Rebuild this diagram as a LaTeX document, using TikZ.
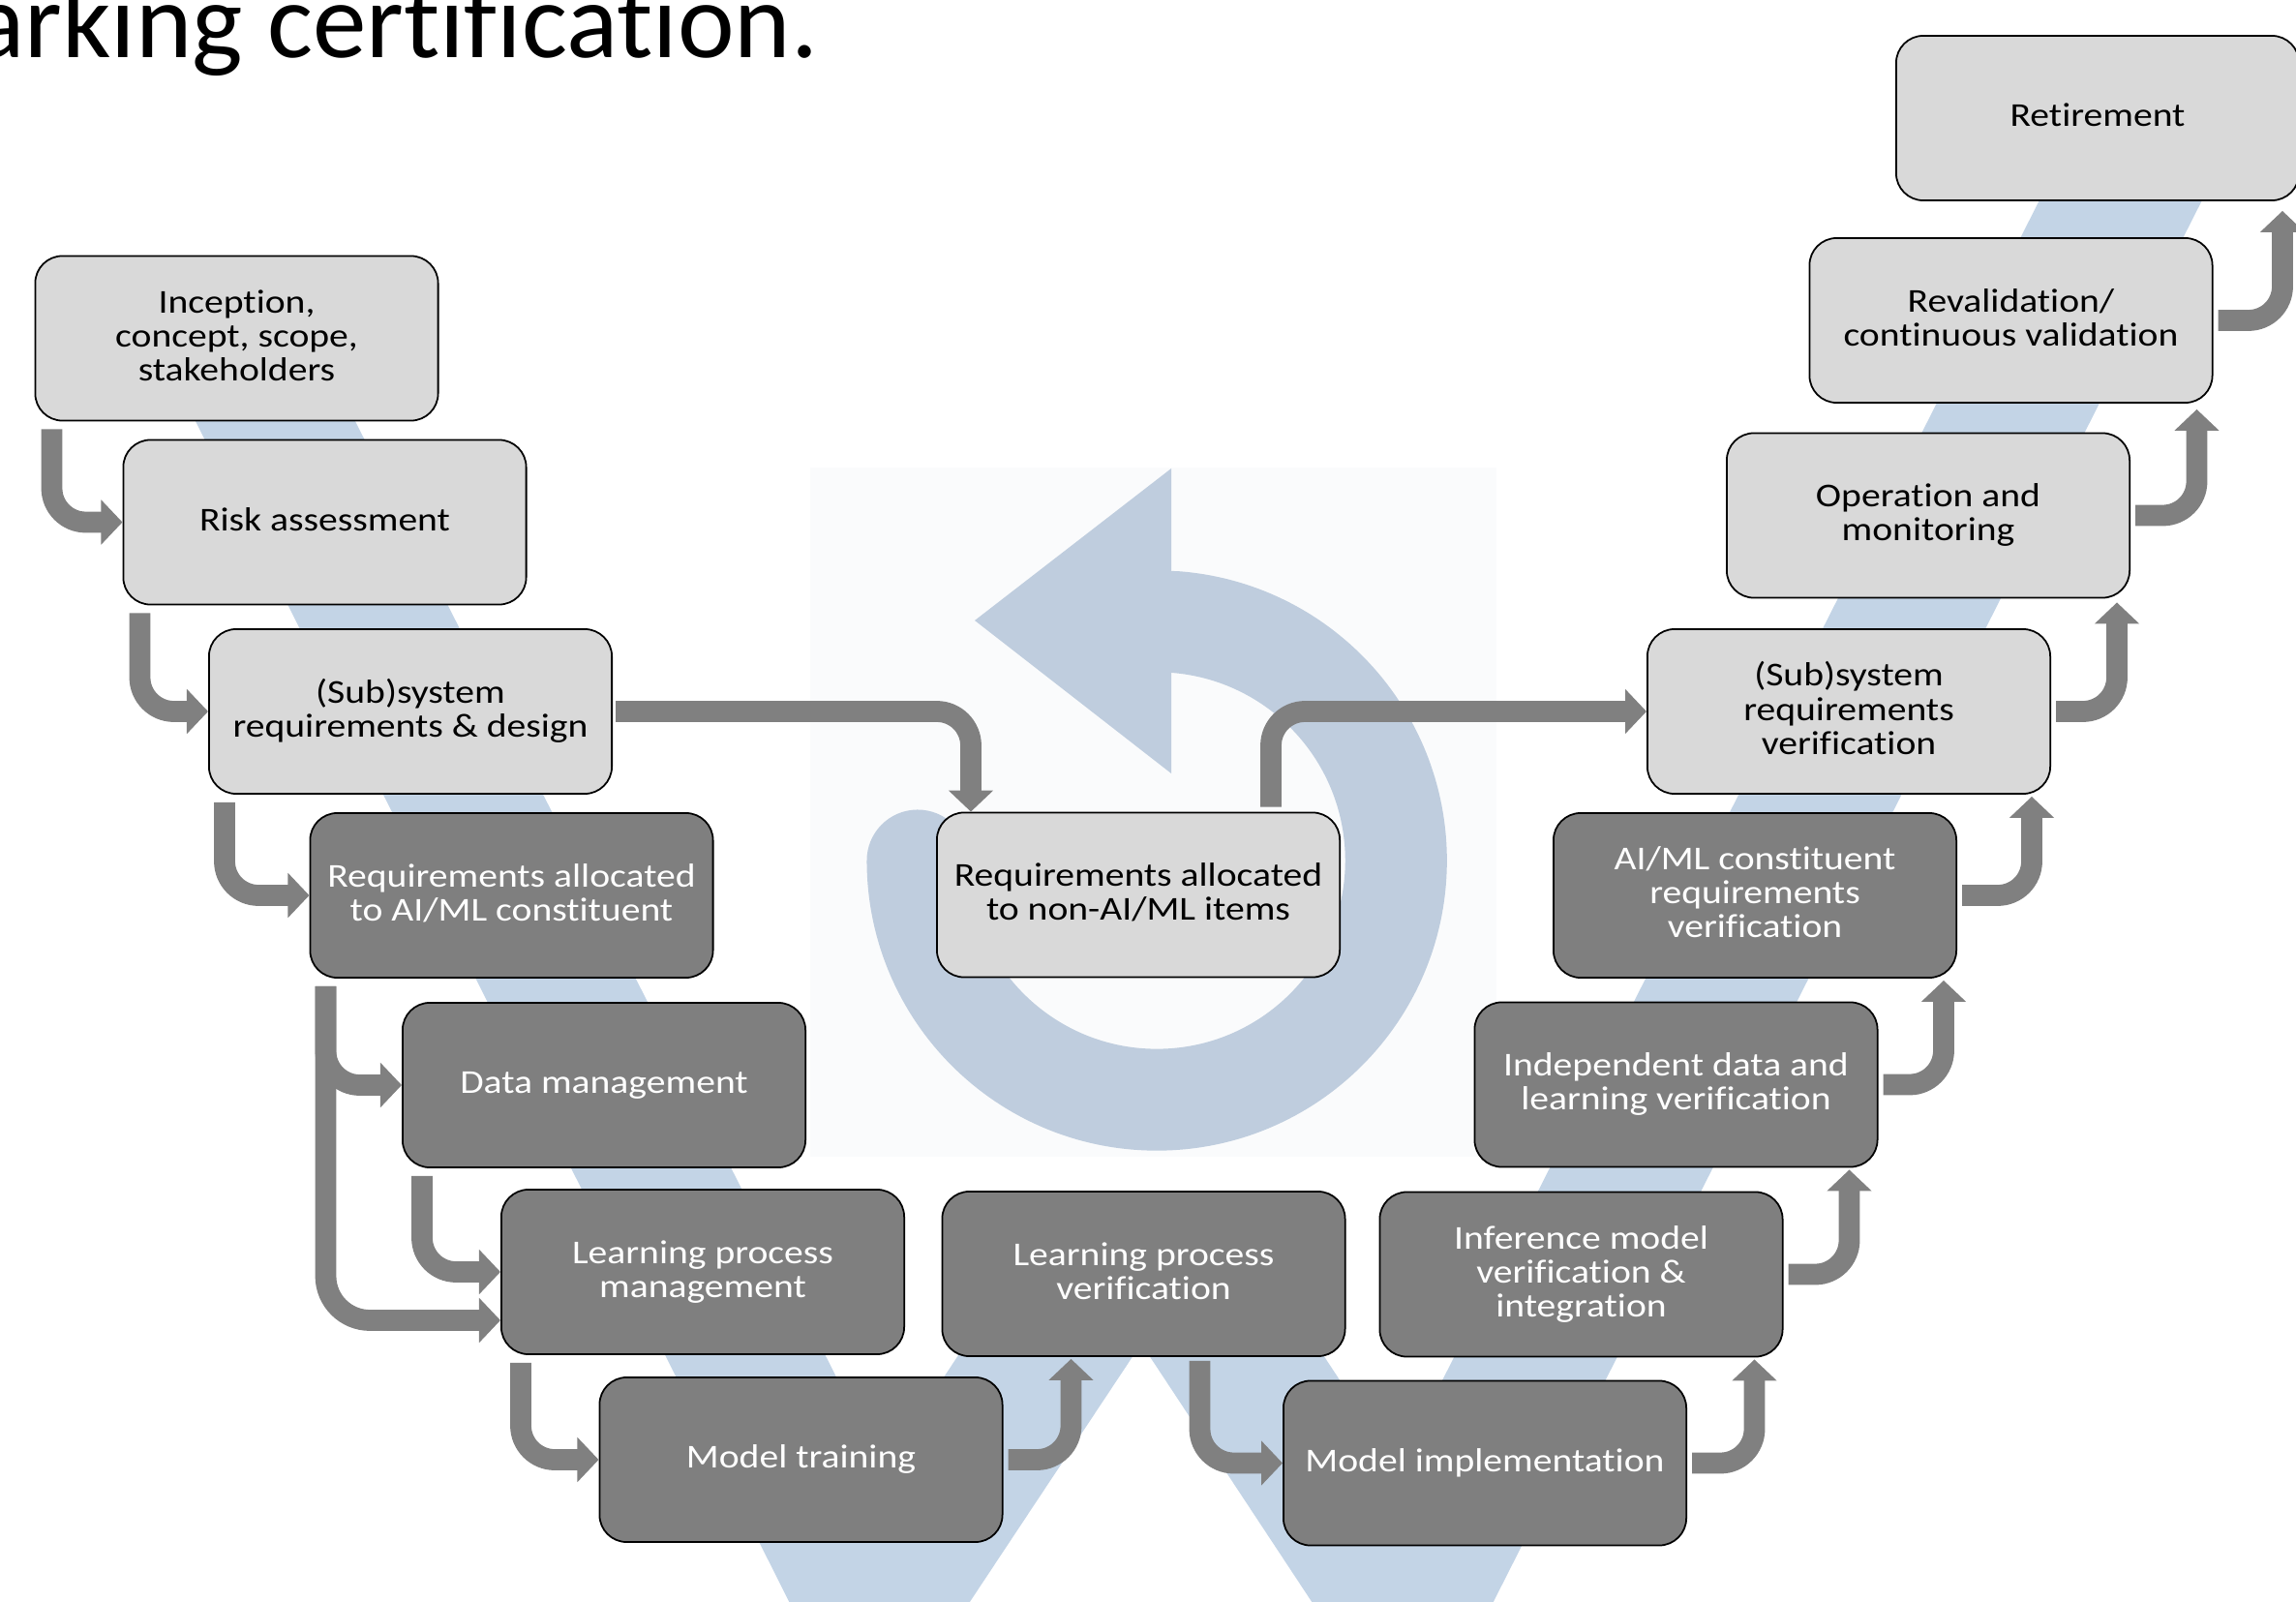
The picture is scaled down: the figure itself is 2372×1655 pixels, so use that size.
\documentclass[tikz,border=0pt]{standalone}
\usepackage{fontspec}
\usepackage{tikz}
\usetikzlibrary{calc,arrows.meta}
\newfontfamily\boxfont[FakeStretch=1.15,Ligatures=NoCommon]{Carlito}
\newfontfamily\titlefont[Ligatures=NoCommon]{Carlito}
\definecolor{lite}{HTML}{D9D9D9}
\definecolor{dark}{HTML}{7F7F7F}
\definecolor{flowgray}{HTML}{808080}
\definecolor{wblue}{RGB}{195,212,230}
\definecolor{cycblue}{RGB}{191,205,222}
\definecolor{iconbg}{RGB}{250,251,252}
\newcommand\stagetext[1]{\raisebox{-0.5pt}[\height][\depth]{\begin{tabular}{@{}c@{}}#1\end{tabular}}}

\begin{document}
\begin{tikzpicture}[x=0.01cm,y=-0.01cm,
  stage/.style={draw=black, line width=0.5pt, rounded corners=8pt,
    minimum width=4.16cm, minimum height=1.70cm, inner sep=0pt,
    font=\boxfont\fontsize{9.8}{10}\selectfont},
  litestage/.style={stage, fill=lite, text=black},
  darkstage/.style={stage, fill=dark, text=white},
  flow/.style={draw=flowgray, line width=6.2pt, rounded corners=10pt,
    -{Triangle[length=0.22cm,width=0.45cm]}}]

\useasboundingbox (0,0) rectangle (2372,1655);
\clip (0,0) rectangle (2372,1655);

\node[anchor=base east, inner sep=0pt, font=\titlefont\fontsize{31.6}{38}\selectfont] (title) at (846,60) {arking certification.};

\fill[iconbg] (837,483) rectangle (1546,1195);
\draw[cycblue, line width=1.05cm, line cap=round] (948,889) arc[start angle=180, end angle=446, radius=2.47cm];
\fill[cycblue] (1007,641) -- (1210,484) -- (1210,799) -- cycle;

\fill[wblue] (134,300) -- (299,300) -- (912,1518) -- (1096,1240) -- (1262,1240) -- (1444,1517)
  -- (2161,100) -- (2329,100) -- (1520,1700) -- (1385,1700) -- (1179,1388) -- (972,1700)
  -- (838,1700) -- cycle;

\begin{scope}
\foreach \nm/\cx/\cy/\txt in {
  inc/244.5/349.5/{Inception,\\concept, scope,\\stakeholders},
  risk/335.5/539.5/{Risk assessment},
  sreq/424/735/{(Sub)system\\requirements \& design},
  nonai/1176/924.5/{Requirements allocated\\to non-AI/ML items},
  sverif/1910/735/{(Sub)system\\requirements\\verification},
  oper/1992/532.5/{Operation and\\monitoring},
  reval/2077.5/331/{Revalidation/\\continuous validation},
  retire/2167/122/{Retirement}}
  \node[litestage] (\nm) at (\cx,\cy) {\stagetext{\txt}};
\end{scope}

\begin{scope}
\foreach \nm/\cx/\cy/\txt in {
  reqai/528.5/925/{Requirements allocated\\to AI/ML constituent},
  data/624/1121/{Data management},
  lpm/726/1314/{Learning process\\management},
  train/827.5/1508/{Model training},
  lpv/1181.5/1316/{Learning process\\verification},
  impl/1534/1511.5/{Model implementation},
  infer/1633.5/1316.5/{Inference model\\verification \&\\integration},
  indep/1731.5/1120.5/{Independent data and\\learning verification},
  aiverif/1813/925/{AI/ML constituent\\requirements\\verification}}
  \node[darkstage] (\nm) at (\cx,\cy) {\stagetext{\txt}};
\end{scope}

\draw[flow] ($(inc.south west)+(18,8)$) |- (risk.west);
\draw[flow] ($(risk.south west)+(18,8)$) |- (sreq.west);
\draw[flow] ($(sreq.south west)+(17,8)$) |- (reqai.west);
\draw[flow] ($(sreq.east)+(3,0)$) -| ($(nonai.north west)+(36,0)$);
\draw[flow] ($(nonai.north east)+(-72,-5)$) |- (sverif.west);
\draw[flow] ($(reqai.south west)+(17,8)$) |- (data.west);
\draw[flow, rounded corners=13pt] ($(reqai.south west)+(17,8)$) |- ($(lpm.west)+(0,50)$);
\draw[flow] ($(data.south west)+(21,8)$) |- (lpm.west);
\draw[flow] ($(lpm.south west)+(21,8)$) |- (train.west);
\draw[flow] ($(train.east)+(5,0)$) -| ($(lpv.south west)+(134,2)$);
\draw[flow] ($(lpv.south west)+(267,4)$) |- (impl.west);
\draw[flow] ($(impl.east)+(5,0)$) -| ($(infer.south east)+(-30,2)$);
\draw[flow] ($(infer.east)+(5,0)$) -| ($(indep.south east)+(-30,2)$);
\draw[flow] ($(indep.east)+(5,0)$) -| ($(aiverif.south east)+(-14,2)$);
\draw[flow] ($(aiverif.east)+(5,0)$) -| ($(sverif.south east)+(-20,2)$);
\draw[flow] ($(sverif.east)+(5,0)$) -| ($(oper.south east)+(-14,4)$);
\draw[flow] ($(oper.east)+(5,0)$) -| ($(reval.south east)+(-17,6)$);
\draw[flow] ($(reval.east)+(5,0)$) -| ($(retire.south west)+(400,10)$);

\end{tikzpicture}
\end{document}
